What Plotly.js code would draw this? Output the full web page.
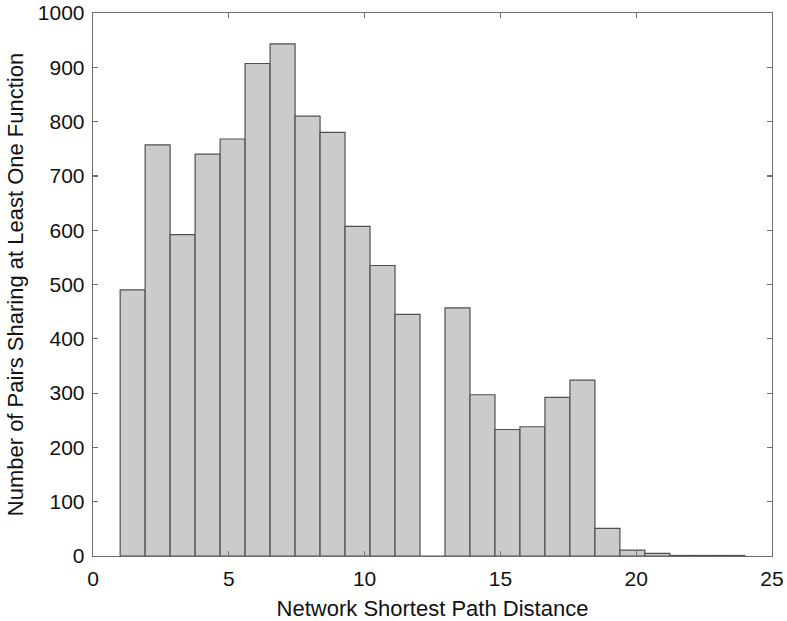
<!DOCTYPE html>
<html>
<head>
<meta charset="utf-8">
<script src="https://cdn.plot.ly/plotly-3.0.1.min.js"></script>
<style>
  html, body { margin: 0; padding: 0; background: #fff; }
  #chart { width: 787px; height: 621px; }
</style>
</head>
<body>
<div id="chart"></div>
<script>
// Histogram of shortest path distances: 25 bins spanning 1..24 (bin width 0.92)
const binCenters = [1.46, 2.38, 3.30, 4.22, 5.14, 6.06, 6.98, 7.90, 8.82, 9.74,
                    10.66, 11.58, 12.50, 13.42, 14.34, 15.26, 16.18, 17.10, 18.02, 18.94,
                    19.86, 20.78, 21.70, 22.62, 23.54];
const pairCounts = [490, 757, 592, 740, 768, 907, 943, 810, 780, 607,
                    535, 445, 0, 457, 297, 233, 238, 292, 324, 51,
                    11, 5, 1, 1, 1];
const binWidth = 0.92;

const xTickVals = [0, 5, 10, 15, 20, 25];
const yTickVals = [0, 100, 200, 300, 400, 500, 600, 700, 800, 900, 1000];

const xTitle = 'Network Shortest Path Distance';
const yTitle = 'Number of Pairs Sharing at Least One Function';

const font = 'Liberation Sans, Arial, Helvetica, sans-serif';

const trace = {
  type: 'bar',
  x: binCenters,
  y: pairCounts,
  width: binWidth,
  marker: {
    color: '#cbcbcb',
    line: { color: '#505050', width: 1.2 }
  },
  hoverinfo: 'x+y'
};

const axisCommon = {
  showline: true,
  linecolor: '#6e6e6e',
  linewidth: 1.3,
  mirror: 'ticks',
  ticks: 'inside',
  ticklen: 5,
  tickwidth: 1.2,
  tickcolor: '#6e6e6e',
  showgrid: false,
  zeroline: false,
  tickfont: { family: font, size: 21, color: '#111' }
};

const layout = {
  width: 787,
  height: 621,
  margin: { l: 93, r: 15, t: 13, b: 65 },
  paper_bgcolor: '#ffffff',
  plot_bgcolor: '#ffffff',
  showlegend: false,
  bargap: 0,
  xaxis: Object.assign({}, axisCommon, {
    range: [0, 25],
    tickvals: xTickVals,
    ticktext: xTickVals.map(String),
    ticklabelstandoff: 3,
    title: { text: xTitle, font: { family: font, size: 22, color: '#111' }, standoff: 12 }
  }),
  yaxis: Object.assign({}, axisCommon, {
    range: [0, 1000],
    tickvals: yTickVals,
    ticktext: yTickVals.map(String),
    ticklabelstandoff: 3,
    title: { text: yTitle, font: { family: font, size: 22, color: '#111' }, standoff: 8 }
  })
};

Plotly.newPlot('chart', [trace], layout, { displayModeBar: false, staticPlot: true });
</script>
</body>
</html>
